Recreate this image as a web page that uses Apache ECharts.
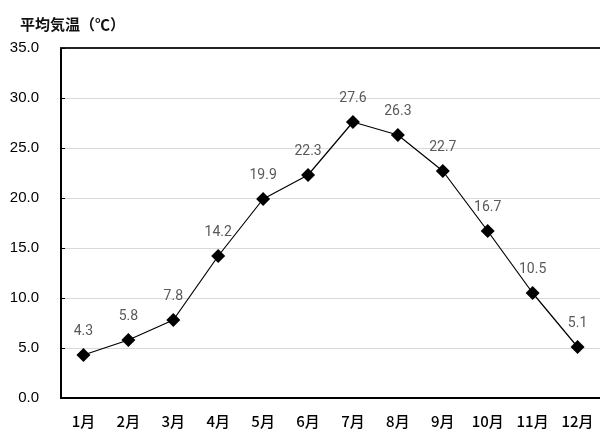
<!DOCTYPE html>
<html>
<head>
<meta charset="utf-8">
<script src="https://cdn.jsdelivr.net/npm/echarts@6/dist/echarts.min.js"></script>
<style>
  html, body { margin: 0; padding: 0; background: #fff; }
  #chart { width: 600px; height: 430px; }
</style>
</head>
<body>
<div id="chart"></div>
<script>
// Monthly mean temperature
const months = ['1月', '2月', '3月', '4月', '5月', '6月', '7月', '8月', '9月', '10月', '11月', '12月'];
const temps = [4.3, 5.8, 7.8, 14.2, 19.9, 22.3, 27.6, 26.3, 22.7, 16.7, 10.5, 5.1];
const yTicks = { min: 0, max: 35, interval: 5 };

const chart = echarts.init(document.getElementById('chart'));
chart.setOption({
  animation: false,
  title: {
    text: '平均気温（℃）',
    left: 20,
    top: 17,
    padding: 0,
    textStyle: { fontFamily: 'Noto Sans CJK JP', fontSize: 15, fontWeight: 'bold', color: '#111' }
  },
  grid: { left: 61, right: 0, top: 48, bottom: 32, containLabel: false },
  xAxis: [{
    type: 'category',
    data: months,
    boundaryGap: true,
    axisLine: { lineStyle: { color: '#000', width: 2 } },
    axisTick: { inside: true, length: 5, lineStyle: { color: '#000', width: 1 } },
    axisLabel: { fontFamily: 'Noto Sans CJK JP', fontSize: 15, fontWeight: 500, color: '#000', margin: 16 }
  }, {
    type: 'category',
    position: 'top',
    data: months,
    axisLine: { lineStyle: { color: '#222', width: 2 } },
    axisTick: { show: false },
    axisLabel: { show: false }
  }],
  yAxis: {
    type: 'value',
    min: yTicks.min,
    max: yTicks.max,
    interval: yTicks.interval,
    axisLine: { show: true, lineStyle: { color: '#000', width: 2 } },
    axisTick: { show: true, inside: true, length: 4, lineStyle: { color: '#000' } },
    axisLabel: {
      fontFamily: 'Liberation Sans, Arial, sans-serif', fontSize: 15, color: '#000', margin: 22,
      formatter: v => v.toFixed(1)
    },
    splitLine: { lineStyle: { color: '#d9d9d9', width: 1 } }
  },
  series: [{
    type: 'line',
    data: temps,
    symbol: 'diamond',
    symbolSize: 14,
    itemStyle: { color: '#000' },
    lineStyle: { color: '#000', width: 1.2 },
    label: {
      show: true,
      position: 'top',
      distance: 10,
      fontFamily: 'Roboto, sans-serif',
      fontSize: 14,
      color: '#595959',
      formatter: p => p.value.toFixed(1)
    }
  }]
});
</script>
</body>
</html>
